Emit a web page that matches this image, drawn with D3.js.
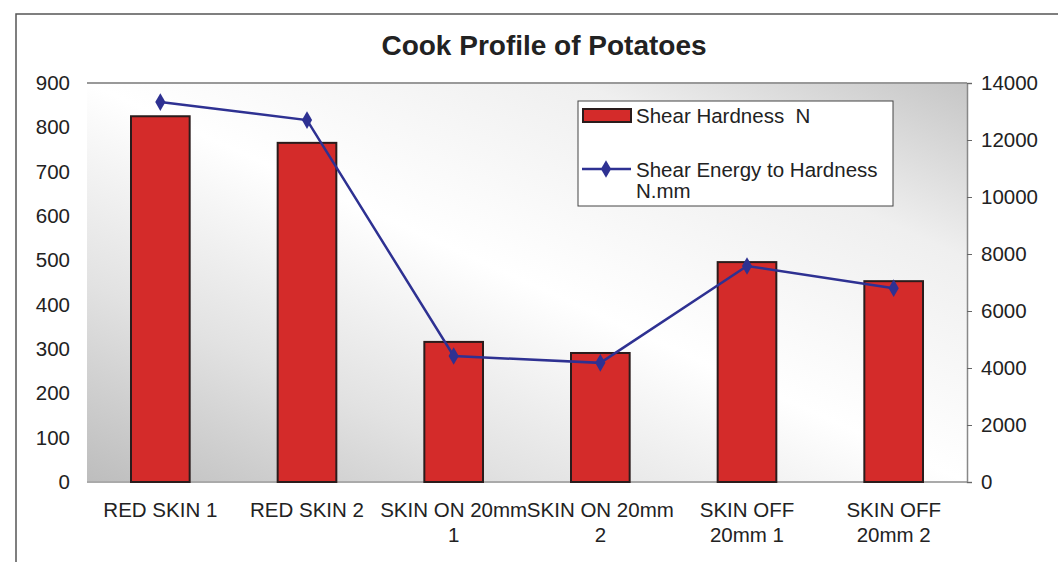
<!DOCTYPE html>
<html>
<head>
<meta charset="utf-8">
<script src="https://cdn.jsdelivr.net/npm/d3@7"></script>
<style>
  body { margin: 0; background: #fff; }
  svg { font-family: "Liberation Sans", Arial, sans-serif; }
</style>
</head>
<body>
<svg id="chart"></svg>
<script>
// Chart data
let categories = ['RED SKIN 1', 'RED SKIN 2', 'SKIN ON 20mm 1', 'SKIN ON 20mm 2', 'SKIN OFF 20mm 1', 'SKIN OFF 20mm 2'];
let categoryLines = [['RED SKIN 1'], ['RED SKIN 2'], ['SKIN ON 20mm', '1'], ['SKIN ON 20mm', '2'], ['SKIN OFF', '20mm 1'], ['SKIN OFF', '20mm 2']];
let hardness = [825, 765, 316, 291, 496, 453];
let energy = [13330, 12700, 4420, 4180, 7580, 6800];
let leftTicks = [0, 100, 200, 300, 400, 500, 600, 700, 800, 900];
let rightTicks = [0, 2000, 4000, 6000, 8000, 10000, 12000, 14000];

// SVG Dimensions
let width = 1058, height = 562;
let plot = { left: 87, right: 967, top: 83, bottom: 482 };
let fontSize = 20.5;

let svg = d3.select('#chart').attr('width', width).attr('height', height);

// outer frame (runs off the right side of the picture)
svg.append('rect')
    .attr('x', 16).attr('y', 14)
    .attr('width', 1100).attr('height', 600)
    .attr('fill', '#fff')
    .attr('stroke', '#555')
    .attr('stroke-width', 1.5);

// background gradient of the plot area
let defs = svg.append('defs');
let grad = defs.append('linearGradient')
    .attr('id', 'bg')
    .attr('x1', 0).attr('y1', 1).attr('x2', 1).attr('y2', 0);
grad.append('stop').attr('offset', 0).attr('stop-color', '#bdbdbd');
grad.append('stop').attr('offset', 0.25).attr('stop-color', '#e2e2e2');
grad.append('stop').attr('offset', 0.5).attr('stop-color', '#ffffff');
grad.append('stop').attr('offset', 0.78).attr('stop-color', '#efefef');
grad.append('stop').attr('offset', 1).attr('stop-color', '#c6c6c6');

svg.append('rect')
    .attr('x', plot.left).attr('y', plot.top)
    .attr('width', plot.right - plot.left)
    .attr('height', plot.bottom - plot.top)
    .attr('fill', 'url(#bg)');

// scales
let x = d3.scaleBand()
    .domain(categories)
    .range([plot.left, plot.right])
    .paddingInner(0.6)
    .paddingOuter(0.3);

let yLeft = d3.scaleLinear().domain([0, 900]).range([plot.bottom, plot.top]);
let yRight = d3.scaleLinear().domain([0, 14000]).range([plot.bottom, plot.top]);

// frame lines of plot area
svg.append('line')
    .attr('x1', plot.left).attr('x2', plot.right)
    .attr('y1', plot.top).attr('y2', plot.top)
    .attr('stroke', '#999').attr('stroke-width', 2);
svg.append('line')
    .attr('x1', plot.left).attr('x2', plot.right)
    .attr('y1', plot.bottom).attr('y2', plot.bottom)
    .attr('stroke', '#aaa').attr('stroke-width', 2);

// left axis
let leftAxis = svg.append('g')
    .attr('transform', `translate(${plot.left},0)`)
    .call(d3.axisLeft(yLeft).tickValues(leftTicks).tickSize(0).tickPadding(17).tickFormat(d3.format('d')));
leftAxis.select('.domain').remove();
leftAxis.selectAll('text')
    .attr('font-size', fontSize)
    .attr('fill', '#222')
    .attr('font-family', '"Liberation Sans", Arial, sans-serif');

// right axis
let rightAxis = svg.append('g')
    .attr('transform', `translate(${plot.right},0)`)
    .call(d3.axisRight(yRight).tickValues(rightTicks).tickSize(5).tickPadding(9).tickFormat(d3.format('d')));
rightAxis.select('.domain').attr('stroke', '#888').attr('stroke-width', 1.5);
rightAxis.selectAll('line').attr('stroke', '#666');
rightAxis.selectAll('text')
    .attr('font-size', fontSize)
    .attr('fill', '#222')
    .attr('font-family', '"Liberation Sans", Arial, sans-serif');

// bars
svg.selectAll('.bar')
    .data(hardness)
    .enter()
    .append('rect')
    .attr('class', 'bar')
    .attr('x', (d, i) => x(categories[i]))
    .attr('y', (d) => yLeft(d))
    .attr('width', x.bandwidth())
    .attr('height', (d) => yLeft(0) - yLeft(d))
    .attr('fill', '#d42b2a')
    .attr('stroke', '#2a1c1c')
    .attr('stroke-width', 2);

// line series
let cx = (i) => x(categories[i]) + x.bandwidth() / 2;
let line = d3.line()
    .x((d, i) => cx(i))
    .y((d) => yRight(d));

svg.append('path')
    .datum(energy)
    .attr('d', line)
    .attr('fill', 'none')
    .attr('stroke', '#2e3192')
    .attr('stroke-width', 2.5);

let diamond = d3.symbol().type(d3.symbolDiamond).size(90);
svg.selectAll('.marker')
    .data(energy)
    .enter()
    .append('path')
    .attr('class', 'marker')
    .attr('d', diamond)
    .attr('transform', (d, i) => `translate(${cx(i)},${yRight(d)})`)
    .attr('fill', '#2e3192');

// x labels
let xLabels = svg.selectAll('.xlabel')
    .data(categoryLines)
    .enter()
    .append('text')
    .attr('class', 'xlabel')
    .attr('text-anchor', 'middle')
    .attr('font-size', fontSize)
    .attr('fill', '#222');
xLabels.selectAll('tspan')
    .data((d, i) => d.map((t) => ({ t: t, i: i })))
    .enter()
    .append('tspan')
    .attr('x', (d) => cx(d.i))
    .attr('y', (d, j) => 517 + j * 25)
    .text((d) => d.t);

// title
svg.append('text')
    .attr('x', 544).attr('y', 55)
    .attr('text-anchor', 'middle')
    .attr('font-size', 28)
    .attr('font-weight', 'bold')
    .attr('fill', '#222')
    .text('Cook Profile of Potatoes');

// legend
let legend = svg.append('g');
legend.append('rect')
    .attr('x', 578).attr('y', 101)
    .attr('width', 315).attr('height', 105)
    .attr('fill', '#fff')
    .attr('stroke', '#444')
    .attr('stroke-width', 1);
legend.append('rect')
    .attr('x', 583).attr('y', 109)
    .attr('width', 48).attr('height', 13)
    .attr('fill', '#d42b2a')
    .attr('stroke', '#2a1c1c')
    .attr('stroke-width', 2);
legend.append('text')
    .attr('x', 636).attr('y', 123)
    .attr('font-size', fontSize).attr('fill', '#222')
    .style('white-space', 'pre')
    .text('Shear Hardness  N');
legend.append('line')
    .attr('x1', 582).attr('x2', 631)
    .attr('y1', 169).attr('y2', 169)
    .attr('stroke', '#2e3192').attr('stroke-width', 2.5);
legend.append('path')
    .attr('d', diamond)
    .attr('transform', 'translate(606,169)')
    .attr('fill', '#2e3192');
legend.append('text')
    .attr('x', 636).attr('y', 177)
    .attr('font-size', fontSize).attr('fill', '#222')
    .text('Shear Energy to Hardness');
legend.append('text')
    .attr('x', 636).attr('y', 198)
    .attr('font-size', fontSize).attr('fill', '#222')
    .text('N.mm');
</script>
</body>
</html>
